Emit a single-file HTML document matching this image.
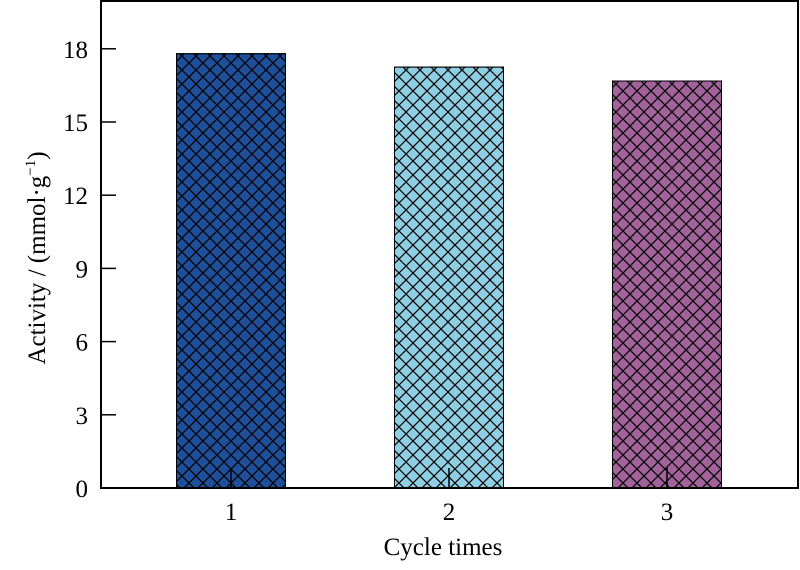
<!DOCTYPE html>
<html><head><meta charset="utf-8"><style>
body{margin:0;background:#fff}
svg text{font-family:"Liberation Serif",serif;fill:#000}
</style></head><body>
<svg width="800" height="565" viewBox="0 0 800 565">
<defs>
<pattern id="hatch" width="14" height="14" patternUnits="userSpaceOnUse">
<path d="M0,0 L14,14 M14,0 L0,14 M-7,7 L7,21 M7,-7 L21,7" stroke="#000" stroke-width="1.2"/>
</pattern>
</defs>
<g id="bars"></g>
<rect x="101" y="1" width="697" height="487" fill="none" stroke="#000" stroke-width="2"/>
<g id="axes"></g>
<text x="443" y="555" font-size="25" text-anchor="middle">Cycle times</text>
<text transform="translate(45,258) rotate(-90)" font-size="25" text-anchor="middle">Activity / (mmol·g<tspan font-size="15" dy="-10">−1</tspan><tspan dy="10">)</tspan></text>
</svg>
<script>
const categories=["1","2","3"];
const values=[17.8,17.25,16.68];
const colors=["#1f4e9a","#8ecfe4","#a2629c"];
const yTicks=[0,3,6,9,12,15,18];
const NS="http://www.w3.org/2000/svg";
const x0=101,x1=798,y0=488,y1=0,yMax=20;
const yS=v=>y0-(y0-y1)*v/yMax;
const step=218,first=231;
const xS=i=>first+i*step;
const bw=109;
const bars=document.getElementById('bars'),axes=document.getElementById('axes');
function mk(t,a,p){const e=document.createElementNS(NS,t);for(const k in a)e.setAttribute(k,a[k]);p.appendChild(e);return e;}
values.forEach((v,i)=>{
 const r=mk('rect',{x:xS(i)-bw/2,y:yS(v),width:bw,height:y0-yS(v),fill:colors[i],stroke:'#000','stroke-width':1},bars);
 
 
 const h=mk('rect',{x:xS(i)-bw/2,y:yS(v),width:bw,height:y0-yS(v),fill:'url(#hatch)',stroke:'#000','stroke-width':1},bars);
 
 
 const t=mk('line',{x1:xS(i),x2:xS(i),y1:y0,y2:y0-20,stroke:'#000','stroke-width':1.5},axes);
 
 
 const l=mk('text',{x:xS(i),y:520,'font-size':25,'text-anchor':'middle'},axes);
 l.textContent=categories[i];
 
 
});
yTicks.forEach(v=>{
 const t=mk('line',{x1:x0,x2:x0+15,y1:yS(v),y2:yS(v),stroke:'#000','stroke-width':1.5},axes);
 
 
 const l=mk('text',{x:88,y:yS(v)+9,'font-size':25,'text-anchor':'end'},axes);
 l.textContent=v;
 
 
});
</script>
</body></html>
